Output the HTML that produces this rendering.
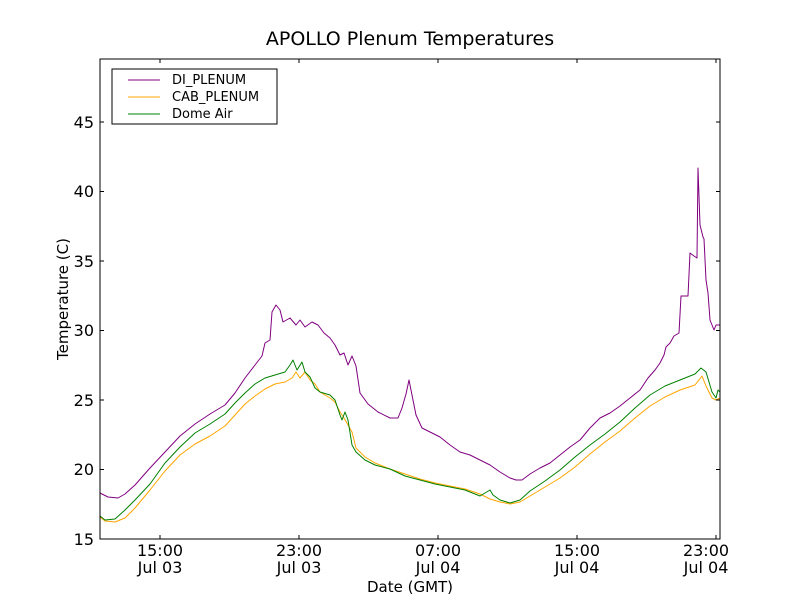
<!DOCTYPE html>
<html><head><style>body{margin:0;background:#fff}svg{display:block}text{font-family:"DejaVu Sans","Liberation Sans",sans-serif}</style></head>
<body>
<svg width="800" height="600" viewBox="0 0 800 600" xmlns="http://www.w3.org/2000/svg">
<rect width="800" height="600" fill="#fff"/>
<text x="410" y="45" font-size="19" text-anchor="middle">APOLLO Plenum Temperatures</text>
<g fill="none" stroke-width="1" stroke-linejoin="round">
<polyline stroke="#800080" points="100,493 108,497 118,498 125,494 135,485 150,468 165,452 180,436 195,424 210,414 225,405 235,393 245,378 255,365 262,356 265,343 270,340 272,312 276,305 280,310 283,322 290,318 296,325 300,320 305,327 312,322 318,325 324,333 330,338 335,345 340,355 344,353 348,365 352,356 356,366 360,393 368,404 378,412 390,418 398,418 402,408 406,394 409,380 412,395 416,415 422,428 430,432 440,437 450,445 460,452 470,455 480,460 490,465 500,472 510,478 516,480 522,480 530,474 540,468 550,463 560,455 570,447 580,440 590,428 600,418 610,413 620,406 630,398 640,390 648,378 655,370 660,363 664,355 666,347 670,343 674,336 679,333 681,296 688,296 690,253 694,256 697,258 698,168 700,225 703,237 704,239 706,280 708,293 710,320 714,330 716,325 720,325"/>
<polyline stroke="#ffa500" points="100,517 105,521 115,522 125,518 135,508 150,490 165,471 180,455 195,444 210,436 225,426 235,415 245,404 255,396 265,389 275,384 285,382 292,378 296,372 300,378 305,372 310,380 315,384 320,392 330,398 335,402 340,412 344,418 348,425 352,432 356,448 365,457 375,463 390,469 405,474 420,479 435,483 450,486 465,489 480,494 490,499 500,502 510,504 520,502 530,496 545,487 560,478 575,467 590,454 605,442 620,431 635,418 650,406 665,397 680,390 695,385 702,376 706,386 712,398 716,400 720,398"/>
<polyline stroke="#008000" points="100,516 105,520 115,519 125,510 135,500 150,484 165,463 180,447 195,433 210,424 225,414 235,403 245,393 255,384 265,378 275,375 285,372 290,365 293,360 297,370 302,362 305,372 310,377 315,388 320,392 330,395 335,400 340,415 342,420 345,412 348,420 352,445 356,452 365,460 375,465 390,469 405,476 420,480 435,484 450,487 465,490 480,496 485,493 490,490 493,495 500,500 510,503 520,500 530,491 545,481 560,470 575,457 590,445 605,434 620,422 635,408 650,395 665,386 680,380 695,374 701,368 706,372 712,392 716,398 718,390 720,392"/>
</g>
<rect x="100" y="59" width="620" height="480" fill="none" stroke="#000" stroke-width="1"/>
<g stroke="#000" stroke-width="1">
<line x1="100" y1="469.5" x2="104" y2="469.5"/><line x1="716" y1="469.5" x2="720" y2="469.5"/>
<line x1="100" y1="400" x2="104" y2="400"/><line x1="716" y1="400" x2="720" y2="400"/>
<line x1="100" y1="330.5" x2="104" y2="330.5"/><line x1="716" y1="330.5" x2="720" y2="330.5"/>
<line x1="100" y1="261" x2="104" y2="261"/><line x1="716" y1="261" x2="720" y2="261"/>
<line x1="100" y1="191.5" x2="104" y2="191.5"/><line x1="716" y1="191.5" x2="720" y2="191.5"/>
<line x1="100" y1="122" x2="104" y2="122"/><line x1="716" y1="122" x2="720" y2="122"/>
<line x1="160" y1="539" x2="160" y2="535"/><line x1="160" y1="59" x2="160" y2="63"/>
<line x1="299" y1="539" x2="299" y2="535"/><line x1="299" y1="59" x2="299" y2="63"/>
<line x1="438" y1="539" x2="438" y2="535"/><line x1="438" y1="59" x2="438" y2="63"/>
<line x1="577" y1="539" x2="577" y2="535"/><line x1="577" y1="59" x2="577" y2="63"/>
<line x1="716" y1="539" x2="716" y2="535"/><line x1="716" y1="59" x2="716" y2="63"/>
</g>
<g font-size="16" text-anchor="end">
<text x="94" y="545">15</text><text x="94" y="475">20</text><text x="94" y="406">25</text><text x="94" y="336">30</text><text x="94" y="267">35</text><text x="94" y="197">40</text><text x="94" y="128">45</text>
</g>
<g font-size="16" text-anchor="middle">
<text x="160" y="556">15:00</text><text x="160" y="573">Jul 03</text>
<text x="299" y="556">23:00</text><text x="299" y="573">Jul 03</text>
<text x="438" y="556">07:00</text><text x="438" y="573">Jul 04</text>
<text x="577" y="556">15:00</text><text x="577" y="573">Jul 04</text>
<text x="706" y="556">23:00</text><text x="706" y="573">Jul 04</text>
</g>
<text x="410" y="592" font-size="15" text-anchor="middle">Date (GMT)</text>
<text x="68" y="299" font-size="15" text-anchor="middle" transform="rotate(-90 68 299)">Temperature (C)</text>
<rect x="112" y="69" width="165" height="55" fill="#fff" stroke="#000"/>
<line x1="128" y1="80" x2="160" y2="80" stroke="#800080"/>
<line x1="128" y1="97" x2="160" y2="97" stroke="#ffa500"/>
<line x1="128" y1="114" x2="160" y2="114" stroke="#008000"/>
<g font-size="13"><text x="172" y="84">DI_PLENUM</text><text x="172" y="101">CAB_PLENUM</text><text x="172" y="118">Dome Air</text></g>
</svg>
</body></html>
